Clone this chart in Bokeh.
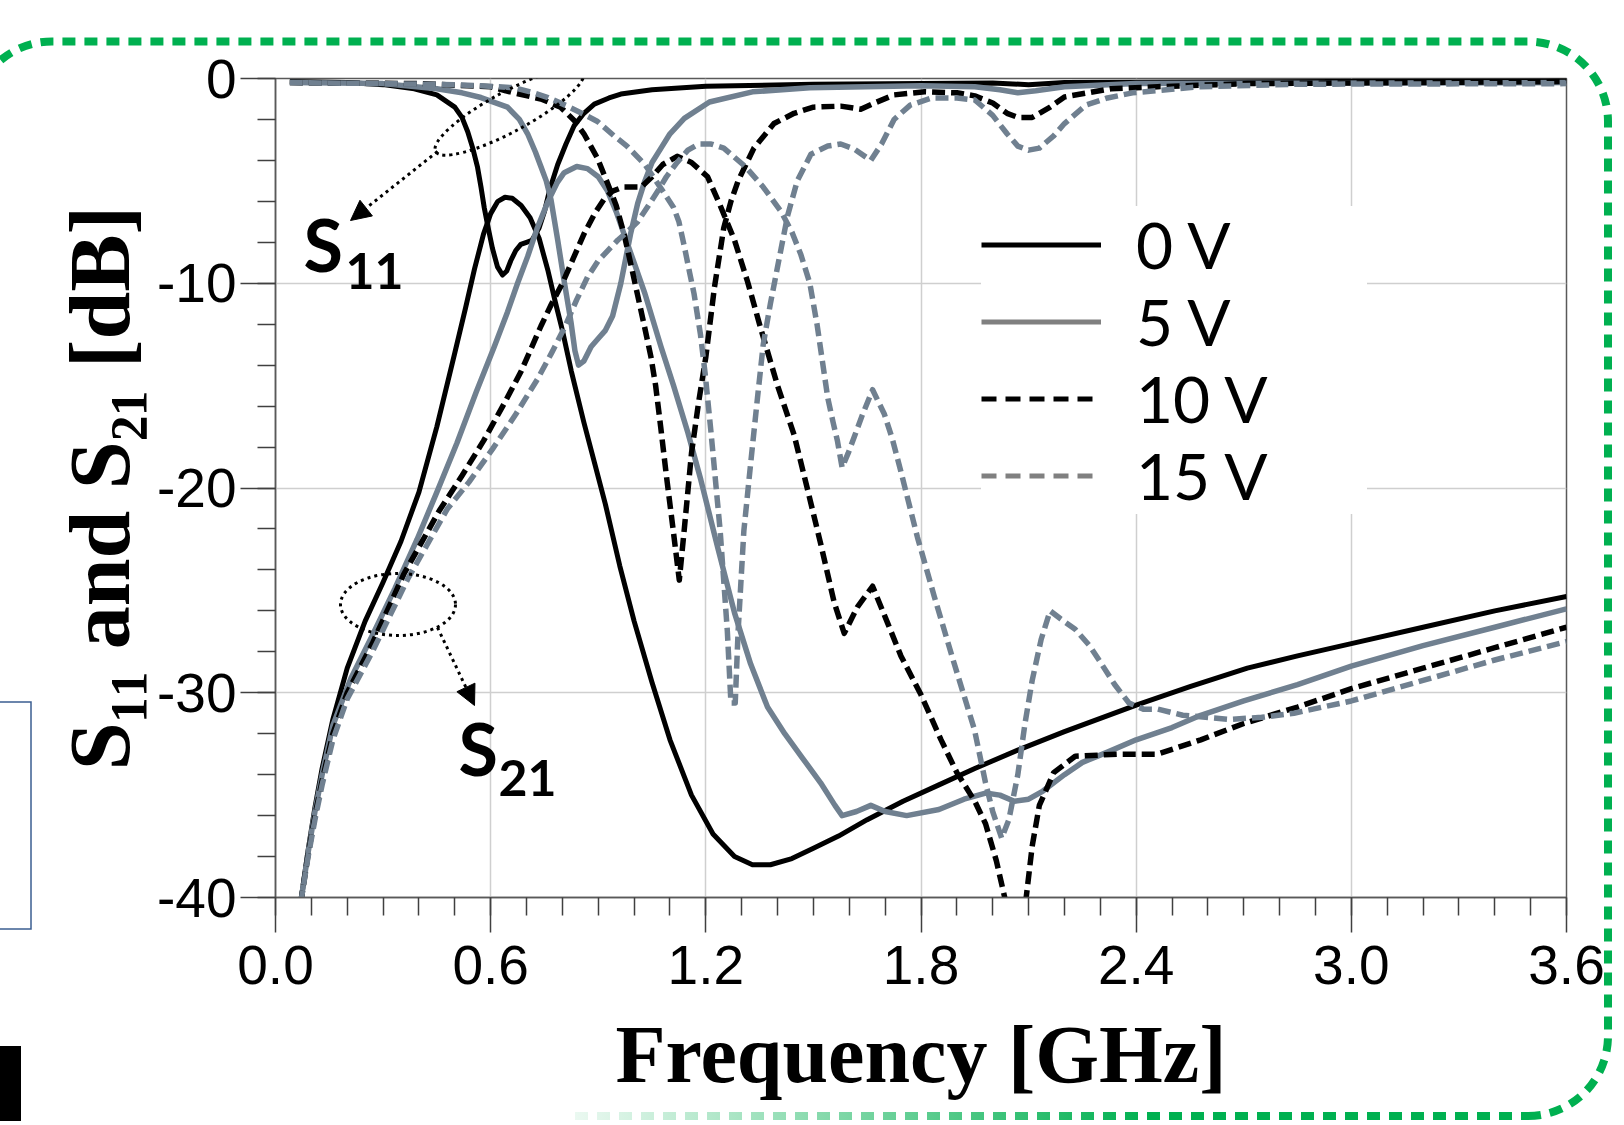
import math
from urllib.parse import quote
from bokeh.plotting import figure
from bokeh.models import (Range1d, FixedTicker, Legend, LegendItem, Label, Arrow,
                          NormalHead, PrintfTickFormatter)
from bokeh.embed import file_html
from bokeh.resources import INLINE

# ---------------- data (frequency in GHz, magnitude in dB) ----------------
f_s21_0v = [0.07, 0.09, 0.11, 0.13, 0.16, 0.2, 0.25, 0.3, 0.35, 0.4, 0.45, 0.5, 0.53, 0.555, 0.58,
            0.6, 0.62, 0.64, 0.66, 0.685, 0.71, 0.735, 0.76, 0.78, 0.8, 0.825, 0.86, 0.89, 0.92, 0.96,
            1.0, 1.05, 1.1, 1.16, 1.22, 1.28, 1.33, 1.38, 1.44, 1.5, 1.57, 1.65, 1.75, 1.85, 1.95, 2.07,
            2.2, 2.4, 2.55, 2.71, 2.85, 3.0, 3.2, 3.4, 3.6]
s21_0v = [-40.3, -37.8, -35.6, -33.7, -31.3, -28.8, -26.5, -24.6, -22.6, -20.2, -17.0, -13.4, -11.2, -9.3, -7.6,
          -6.6, -6.0, -5.8, -5.85, -6.2, -6.8, -7.8, -9.4, -10.9, -12.3, -14.3, -16.8, -18.8, -20.8, -23.8,
          -26.5, -29.5, -32.3, -35.0, -36.9, -38.0, -38.4, -38.4, -38.1, -37.6, -37.0, -36.2, -35.3, -34.5, -33.7, -32.8,
          -31.9, -30.6, -29.7, -28.8, -28.2, -27.6, -26.8, -26.0, -25.3]

f_s11_0v = [0.04, 0.2, 0.3, 0.387, 0.45, 0.5, 0.52, 0.536, 0.55, 0.563, 0.573, 0.582, 0.592, 0.605, 0.619,
            0.633, 0.645, 0.656, 0.67, 0.684, 0.7, 0.715, 0.735, 0.75, 0.765, 0.787, 0.81, 0.833, 0.86, 0.889,
            0.93, 0.963, 1.05, 1.2, 1.5, 2.0, 2.1, 2.2, 3.6]
s11_0v = [-0.15, -0.2, -0.3, -0.5, -0.8, -1.4, -1.9, -2.6, -3.4, -4.3, -5.3, -6.3, -7.2, -8.3, -9.2,
          -9.6, -9.4, -8.9, -8.4, -8.1, -8.0, -7.9, -7.3, -6.5, -5.4, -4.2, -3.2, -2.3, -1.7, -1.25,
          -0.95, -0.76, -0.55, -0.38, -0.28, -0.22, -0.3, -0.2, -0.1]

f_s21_5v = [0.07, 0.09, 0.11, 0.13, 0.16, 0.21, 0.27, 0.333, 0.395, 0.45, 0.506, 0.56, 0.61, 0.647, 0.675,
            0.703, 0.73, 0.76, 0.785, 0.805, 0.84, 0.87, 0.9, 0.926, 0.95, 0.972, 1.0, 1.03, 1.075, 1.11,
            1.15, 1.186, 1.233, 1.28, 1.325, 1.372, 1.42, 1.47, 1.52, 1.56, 1.58, 1.62, 1.66, 1.7, 1.76,
            1.85, 1.92, 1.98, 2.02, 2.06, 2.1, 2.14, 2.2, 2.25, 2.32, 2.4, 2.5, 2.58, 2.7, 2.85,
            3.0, 3.2, 3.4, 3.6]
s21_5v = [-40.3, -37.9, -35.8, -34.0, -31.6, -29.3, -27.2, -24.9, -22.5, -20.2, -17.8, -15.3, -13.1, -11.4, -10.0,
          -8.7, -7.3, -6.0, -5.1, -4.6, -4.3, -4.4, -4.8, -5.5, -6.5, -7.6, -9.0, -10.5, -13.1, -15.0,
          -17.3, -19.6, -22.9, -26.1, -28.6, -30.7, -32.0, -33.2, -34.4, -35.5, -36.0, -35.8, -35.5, -35.8, -36.0,
          -35.7, -35.2, -34.9, -35.0, -35.3, -35.2, -34.8, -34.0, -33.4, -32.9, -32.3, -31.7, -31.1, -30.4, -29.6,
          -28.7, -27.7, -26.8, -25.9]

f_s11_5v = [0.04, 0.3, 0.45, 0.52, 0.573, 0.647, 0.68, 0.703, 0.725, 0.74, 0.755, 0.768, 0.787, 0.805, 0.824,
            0.835, 0.845, 0.86, 0.88, 0.9, 0.92, 0.94, 0.963, 0.99, 1.01, 1.03, 1.05, 1.075, 1.1, 1.14,
            1.21, 1.33, 1.49, 1.8, 1.95, 2.02, 2.07, 2.12, 2.2, 2.4, 3.6]
s11_5v = [-0.2, -0.25, -0.5, -0.7, -0.93, -1.4, -2.0, -2.7, -3.6, -4.3, -5.0, -5.9, -7.9, -9.9, -11.9,
          -13.3, -14.0, -13.8, -13.1, -12.7, -12.3, -11.6, -10.0, -7.6, -6.1, -5.0, -4.1, -3.4, -2.7, -1.95,
          -1.15, -0.65, -0.45, -0.35, -0.4, -0.55, -0.7, -0.6, -0.4, -0.25, -0.2]

f_s21_10v = [0.07, 0.09, 0.11, 0.13, 0.16, 0.2, 0.27, 0.358, 0.457, 0.52, 0.58, 0.64, 0.685, 0.74, 0.77,
             0.8, 0.83, 0.86, 0.89, 0.916, 0.94, 0.97, 1.0, 1.02, 1.05, 1.08, 1.12, 1.16, 1.205, 1.24,
             1.28, 1.316, 1.353, 1.4, 1.446, 1.484, 1.52, 1.558, 1.586, 1.623, 1.665, 1.707, 1.744, 1.8, 1.856,
             1.9, 1.95, 1.98, 2.01, 2.04, 2.09, 2.11, 2.13, 2.17, 2.23, 2.35, 2.46, 2.58, 2.7, 2.85,
             3.0, 3.2, 3.4, 3.6]
s21_10v = [-40.3, -38.0, -36.0, -34.3, -32.0, -30.0, -27.6, -24.2, -21.1, -19.4, -17.7, -15.8, -14.3, -12.1, -11.0,
           -10.0, -8.8, -7.6, -6.6, -5.9, -5.5, -5.3, -5.3, -5.3, -4.8, -4.2, -3.8, -4.1, -4.8, -6.2,
           -7.9, -9.9, -12.2, -15.0, -17.4, -20.1, -22.7, -25.6, -27.1, -25.8, -24.8, -26.6, -28.2, -30.1, -32.3,
           -33.9, -35.3, -36.4, -38.2, -40.5, -40.5, -37.5, -35.5, -33.9, -33.1, -33.0, -33.0, -32.3, -31.5, -30.7,
           -29.8, -28.8, -27.8, -26.8]

f_s11_10v = [0.04, 0.4, 0.6, 0.665, 0.74, 0.795, 0.833, 0.86, 0.898, 0.93, 0.95, 0.972, 0.99, 1.01, 1.03,
             1.047, 1.06, 1.074, 1.09, 1.11, 1.126, 1.14, 1.16, 1.18, 1.2, 1.224, 1.25, 1.27, 1.29, 1.334,
             1.39, 1.446, 1.5, 1.576, 1.632, 1.67, 1.725, 1.81, 1.9, 1.95, 2.0, 2.04, 2.07, 2.11, 2.16,
             2.2, 2.33, 2.46, 2.71, 3.6]
s11_10v = [-0.2, -0.25, -0.4, -0.7, -1.0, -1.4, -2.05, -2.7, -3.9, -5.3, -6.2, -7.6, -9.0, -10.6, -12.2,
           -13.6, -15.0, -17.0, -19.4, -22.2, -24.5, -22.0, -18.3, -15.8, -13.6, -10.2, -7.3, -6.0, -5.0, -3.4,
           -2.2, -1.7, -1.4, -1.35, -1.5, -1.2, -0.8, -0.65, -0.7, -0.85, -1.2, -1.7, -1.9, -1.9, -1.4,
           -0.9, -0.5, -0.4, -0.25, -0.15]

f_s21_15v = [0.07, 0.09, 0.11, 0.13, 0.16, 0.2, 0.27, 0.37, 0.48, 0.54, 0.605, 0.67, 0.73, 0.77, 0.805,
             0.84, 0.87, 0.9, 0.954, 0.98, 1.01, 1.04, 1.066, 1.09, 1.12, 1.15, 1.18, 1.215, 1.25, 1.31,
             1.36, 1.41, 1.44, 1.465, 1.49, 1.51, 1.525, 1.54, 1.555, 1.567, 1.58, 1.597, 1.614, 1.635, 1.665,
             1.698, 1.72, 1.744, 1.79, 1.837, 1.893, 1.949, 1.98, 2.0, 2.025, 2.045, 2.07, 2.09, 2.11, 2.135,
             2.16, 2.19, 2.23, 2.27, 2.3, 2.34, 2.38, 2.42, 2.46, 2.53, 2.66, 2.75, 2.84, 3.0, 3.2,
             3.4, 3.6]
s21_15v = [-40.3, -38.1, -36.2, -34.5, -32.3, -30.3, -28.0, -24.4, -21.0, -19.7, -18.1, -16.4, -14.7, -13.4, -12.2,
           -10.8, -9.7, -8.9, -7.9, -7.5, -7.0, -6.2, -5.5, -4.8, -4.1, -3.5, -3.2, -3.2, -3.4, -4.3,
           -5.3, -6.5, -7.5, -8.6, -10.0, -12.0, -13.8, -15.6, -16.8, -17.7, -19.0, -18.3, -17.5, -16.5, -15.2,
           -16.4, -17.6, -19.2, -22.4, -25.3, -28.6, -31.8, -34.4, -35.8, -37.1, -36.2, -34.0, -31.5, -29.4, -27.4,
           -26.0, -26.4, -26.9, -27.7, -28.5, -29.6, -30.5, -30.8, -30.8, -31.1, -31.3, -31.2, -31.0, -30.4, -29.4,
           -28.4, -27.5]

f_s11_15v = [0.04, 0.3, 0.5, 0.573, 0.665, 0.72, 0.76, 0.814, 0.86, 0.898, 0.944, 0.98, 1.03, 1.08, 1.11,
             1.125, 1.14, 1.155, 1.167, 1.185, 1.198, 1.214, 1.24, 1.26, 1.27, 1.282, 1.29, 1.306, 1.325, 1.344,
             1.36, 1.38, 1.41, 1.428, 1.455, 1.493, 1.54, 1.576, 1.614, 1.66, 1.69, 1.725, 1.77, 1.83, 1.9,
             1.95, 2.0, 2.04, 2.07, 2.1, 2.13, 2.17, 2.2, 2.26, 2.32, 2.39, 2.58, 2.84, 3.6]
s11_15v = [-0.2, -0.25, -0.3, -0.36, -0.45, -0.7, -0.93, -1.35, -1.75, -2.1, -2.8, -3.3, -4.2, -5.5, -6.3,
           -7.0, -8.2, -9.5, -10.5, -12.5, -14.4, -17.2, -22.1, -27.0, -30.5, -30.5, -27.0, -22.1, -18.8, -15.6,
           -13.0, -11.0, -8.3, -6.7, -5.0, -3.7, -3.3, -3.2, -3.45, -4.0, -3.2, -2.0, -1.3, -0.95, -0.95,
           -1.05, -1.8, -2.7, -3.3, -3.5, -3.4, -2.8, -2.2, -1.3, -0.95, -0.7, -0.4, -0.28, -0.25]

x_ticks = [0.0, 0.6, 1.2, 1.8, 2.4, 3.0, 3.6]
x_tick_labels = ["0.0", "0.6", "1.2", "1.8", "2.4", "3.0", "3.6"]
y_ticks = [-40, -30, -20, -10, 0]
y_tick_labels = ["-40", "-30", "-20", "-10", "0"]
legend_labels = ["0 V", "5 V", "10 V", "15 V"]

# ---------------- layout constants (canvas pixels) ----------------
W, H = 1620, 1121
ML, MT = 275, 78
FW, FH = 1291, 819
MR, MB = W - ML - FW, H - MT - FH
FL, FT, FR, FB = ML, MT, ML + FW, MT + FH
X0, X1, Y0, Y1 = 0.0, 3.6, -40.0, 0.0


def dx(X):
    return X0 + (X - FL) / (FR - FL) * (X1 - X0)


def dy(Y):
    return Y0 + (FB - Y) / (FB - FT) * (Y1 - Y0)


BLACK = "#000000"
GRAY = "#708090"
LEG_GRAY = "#808080"

p = figure(width=W, height=H, x_range=Range1d(X0, X1), y_range=Range1d(Y0, Y1),
           output_backend="svg", toolbar_location=None,
           min_border_left=ML, min_border_right=MR, min_border_top=MT, min_border_bottom=MB)
p.background_fill_color = "white"
p.border_fill_color = None
p.outline_line_color = "#595959"
p.outline_line_width = 1.5

# decorative frame around the chart (green rounded dotted frame, cropped neighbours)
R = 80
right, top, bottom, left = 1608, 41.5, 1116, -28
deco_svg = (
    f"<svg xmlns='http://www.w3.org/2000/svg' width='{W}' height='{H}' viewBox='0 0 {W} {H}'>"
    "<defs><linearGradient id='g' gradientUnits='userSpaceOnUse' x1='575' y1='0' x2='1150' y2='0'>"
    "<stop offset='0' stop-color='#00B050' stop-opacity='0.08'/>"
    "<stop offset='1' stop-color='#00B050' stop-opacity='1'/></linearGradient></defs>"
    f"<path d='M {right - R} {bottom} A {R} {R} 0 0 0 {right} {bottom - R} V {top + R} "
    f"A {R} {R} 0 0 0 {right - R} {top} H {left + R} A {R} {R} 0 0 0 {left} {top + R} V {H + 60}' "
    "fill='none' stroke='#00B050' stroke-width='8' stroke-dasharray='13 9'/>"
    f"<path d='M 575 {bottom} H {right - R}' fill='none' stroke='url(#g)' stroke-width='8' stroke-dasharray='13 9'/>"
    "<rect x='-20' y='702' width='51' height='227' fill='none' stroke='#3B5E91' stroke-width='1.5'/>"
    "<rect x='-10' y='1046' width='31' height='200' fill='#000000'/>"
    "</svg>"
)
p.styles = {
    "background-color": "white",
    "background-image": 'url("data:image/svg+xml,' + quote(deco_svg) + '")',
    "background-repeat": "no-repeat",
    "background-size": f"{W}px {H}px",
}

# axes
p.xaxis.ticker = FixedTicker(ticks=x_ticks, minor_ticks=[round(0.1 * i, 1) for i in range(37)])
p.yaxis.ticker = FixedTicker(ticks=y_ticks, minor_ticks=list(range(-40, 1, 2)))
p.xaxis.formatter = PrintfTickFormatter(format="%.1f")
p.yaxis.formatter = PrintfTickFormatter(format="%d")
p.xaxis.major_label_overrides = {t: s for t, s in zip(x_ticks, x_tick_labels)}
p.yaxis.major_label_overrides = {t: s for t, s in zip(y_ticks, y_tick_labels)}
for ax in (p.xaxis[0], p.yaxis[0]):
    ax.axis_line_color = "#595959"
    ax.axis_line_width = 1.5
    ax.major_tick_in = 0
    ax.major_tick_out = 35
    ax.minor_tick_in = 0
    ax.minor_tick_out = 18
    ax.major_tick_line_color = "#404040"
    ax.minor_tick_line_color = "#404040"
    ax.major_tick_line_width = 1.5
    ax.minor_tick_line_width = 1.5
    ax.major_label_text_font = "Liberation Sans"
    ax.major_label_text_font_size = "55px"
    ax.major_label_text_color = "black"
p.xaxis.major_label_standoff = 13
p.yaxis.major_label_standoff = 4
p.xaxis.axis_label = "Frequency [GHz]"
p.xaxis.axis_label_text_font = "Liberation Serif"
p.xaxis.axis_label_text_font_style = "bold"
p.xaxis.axis_label_text_font_size = "82px"
p.xaxis.axis_label_text_color = "black"
p.xaxis.axis_label_standoff = 22
p.yaxis.axis_label = "S\u2081\u2081 and S\u2082\u2081 [dB]"
p.yaxis.axis_label_text_font = "Liberation Serif"
p.yaxis.axis_label_text_font_style = "bold"
p.yaxis.axis_label_text_font_size = "86px"
p.yaxis.axis_label_text_color = "black"
p.yaxis.axis_label_standoff = 6

p.xgrid.ticker = FixedTicker(ticks=x_ticks)
p.ygrid.ticker = FixedTicker(ticks=y_ticks)
p.grid.grid_line_color = "#CFCFCF"
p.grid.grid_line_width = 1.5

# curves
series = [
    (f_s21_0v, s21_0v, BLACK, 5, "solid"),
    (f_s11_0v, s11_0v, BLACK, 5, "solid"),
    (f_s21_5v, s21_5v, GRAY, 5.5, "solid"),
    (f_s11_5v, s11_5v, GRAY, 5.5, "solid"),
    (f_s21_10v, s21_10v, BLACK, 5.5, "13 6"),
    (f_s11_10v, s11_10v, BLACK, 5.5, "13 6"),
    (f_s21_15v, s21_15v, GRAY, 5.5, "13 6"),
    (f_s11_15v, s11_15v, GRAY, 5.5, "13 6"),
]
for fx, yv, col, lw, dash in series:
    p.line(fx, yv, line_color=col, line_width=lw, line_dash=dash, line_join="round")

# legend samples (renderers with no drawable point, shown only in the legend)
nan = float("nan")
leg_styles = [(BLACK, 5, "solid"), (LEG_GRAY, 5, "solid"), (BLACK, 5, "15 9"), (LEG_GRAY, 5, "15 9")]
items = []
for lab, (col, lw, dash) in zip(legend_labels, leg_styles):
    r = p.line(x=[nan, nan], y=[nan, nan], line_color=col, line_width=lw, line_dash=dash)
    items.append(LegendItem(label=lab, renderers=[r]))
legend = Legend(items=items, location=(706, 383), orientation="vertical",
                padding=4, spacing=0, margin=0, glyph_width=120, glyph_height=75,
                label_height=75, label_width=231, label_standoff=35,
                label_text_font="Lato", label_text_font_size="64px", label_text_color="black",
                background_fill_color="white", background_fill_alpha=1.0, border_line_color=None)
p.add_layout(legend)

# annotations: S11 / S21 ellipses, arrows and labels
p.ellipse(x=[dx(509)], y=[dy(111)], width=[168], height=[40], angle=[math.radians(28.4)],
          width_units="screen", height_units="screen", fill_color=None,
          line_color="black", line_width=3, line_dash="3 4")
p.ellipse(x=[dx(397.5)], y=[dy(604)], width=[115], height=[62], angle=[0.0],
          width_units="screen", height_units="screen", fill_color=None,
          line_color="black", line_width=3, line_dash="3 4")
for (xs, ys, xe, ye) in [(437, 151, 350, 220), (437, 627, 474, 705)]:
    p.add_layout(Arrow(x_start=dx(xs), y_start=dy(ys), x_end=dx(xe), y_end=dy(ye),
                       line_color="black", line_width=3, line_dash="3 4",
                       end=NormalHead(size=20, fill_color="black", line_color="black", line_width=1)))


def add_text(X, Ybase, text, size):
    # anchor shifted so that the glyph baseline lands on Ybase
    p.add_layout(Label(x=dx(X), y=dy(Ybase - 0.387 * size), text=text, text_font="Lato",
                       text_font_style="bold", text_font_size=f"{size}px", text_color="black",
                       text_align="left", text_baseline="alphabetic"))


add_text(303, 271, "S", 72)
add_text(345, 290, "11", 50)
add_text(458, 775, "S", 72)
add_text(498, 797, "21", 50)

open("out.html", "w").write(file_html(p, INLINE))
